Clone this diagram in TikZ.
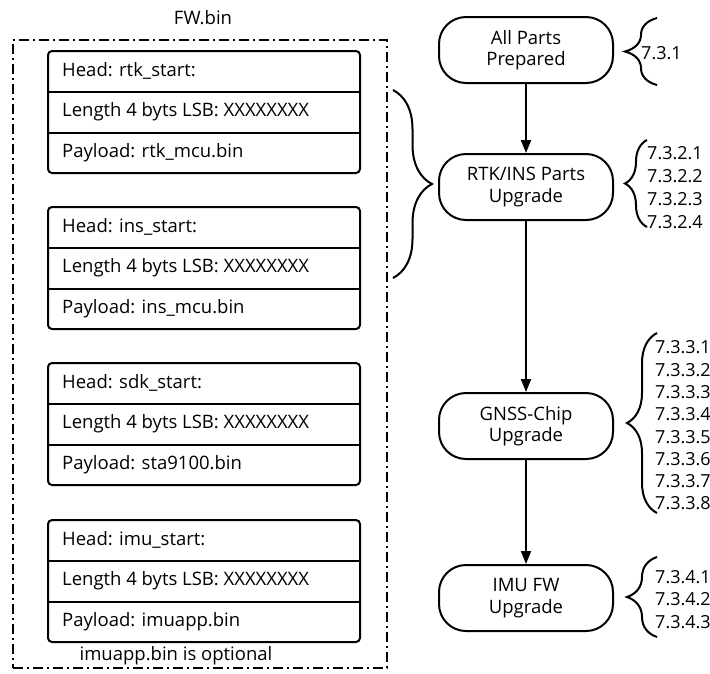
\documentclass[tikz,border=0pt]{standalone}
\usepackage{fontspec}
\setmainfont{Open Sans}
\usetikzlibrary{decorations.pathreplacing,arrows.meta}
\begin{document}
\begin{tikzpicture}[x=1pt,y=-1pt,
  font=\fontsize{18.5}{21.5}\selectfont,
  frame/.style={draw, line width=2pt, dash pattern=on 10pt off 4pt on 2pt off 4pt, minimum width=374pt, minimum height=628pt, inner sep=0pt},
  blk/.style={draw, line width=2pt, rounded corners=4pt, minimum width=312pt, minimum height=122pt, inner sep=0pt},
  div/.style={line width=2pt},
  rowtxt/.style={anchor=west, inner sep=0pt},
  pill/.style={draw, line width=2pt, rounded corners=27pt, minimum width=174pt, minimum height=66pt, align=center, inner sep=0pt},
  arr/.style={line width=2pt, -{Triangle[length=13pt,width=10pt]}},
  brc/.style={line width=2pt, decorate, decoration={brace, amplitude=#1}},
  nums/.style={anchor=west, inner sep=0pt, align=left, font=\fontsize{18}{22.3}\selectfont}
]
\useasboundingbox (0,0) rectangle (710,673);

% frame
\node[frame] (fw) at (200,354) {};
\node[inner sep=0pt] (fwlbl) at (203,18) {FW.bin};

% blocks
\foreach \i/\top/\nm/\pl in {1/51/rtk/rtk\_mcu.bin, 2/207/ins/ins\_mcu.bin, 3/363/sdk/sta9100.bin, 4/520/imu/imuapp.bin}{
  \node[blk] (b\i) at (204,\top+61) {};
  \draw[div] (b\i.west |- 0,\top+41) -- (b\i.east |- 0,\top+41);
  \draw[div] (b\i.west |- 0,\top+82) -- (b\i.east |- 0,\top+82);
  \node[rowtxt] (b\i h) at (62,\top+20) {Head: \nm\_start:};
  \node[rowtxt] (b\i l) at (62,\top+61) {Length 4 byts LSB: XXXXXXXX};
  \node[rowtxt] (b\i p) at (62,\top+102) {Payload: \pl};
}
\node[inner sep=0pt] (opt) at (176,656) {imuapp.bin is optional};

% left brace
\draw[brc=39pt] (393,90) -- (393,278);

% flow
\node[pill] (n1) at (526,50) {All Parts\\Prepared};
\node[pill] (n2) at (526,187) {RTK/INS Parts\\Upgrade};
\node[pill] (n3) at (526,426) {GNSS-Chip\\Upgrade};
\node[pill] (n4) at (526,598) {IMU FW\\Upgrade};
\draw[arr] (n1) -- (n2);
\draw[arr] (n2) -- (n3);
\draw[arr] (n3) -- (n4);

% right braces
\draw[brc=32pt] (657,85) -- (657,18);
\node[nums] (t1) at (641,53) {7.3.1};
\draw[brc=22pt] (647,227) -- (647,140);
\node[nums, font=\fontsize{18}{23}\selectfont] (t2) at (647,187.5) {7.3.2.1\\7.3.2.2\\7.3.2.3\\7.3.2.4};
\draw[brc=30pt] (657,513) -- (657,333);
\node[nums] (t3) at (655,425.5) {7.3.3.1\\7.3.3.2\\7.3.3.3\\7.3.3.4\\7.3.3.5\\7.3.3.6\\7.3.3.7\\7.3.3.8};
\draw[brc=30pt] (657,637) -- (657,557);
\node[nums] (t4) at (655,599.5) {7.3.4.1\\7.3.4.2\\7.3.4.3};
\end{tikzpicture}
\end{document}
